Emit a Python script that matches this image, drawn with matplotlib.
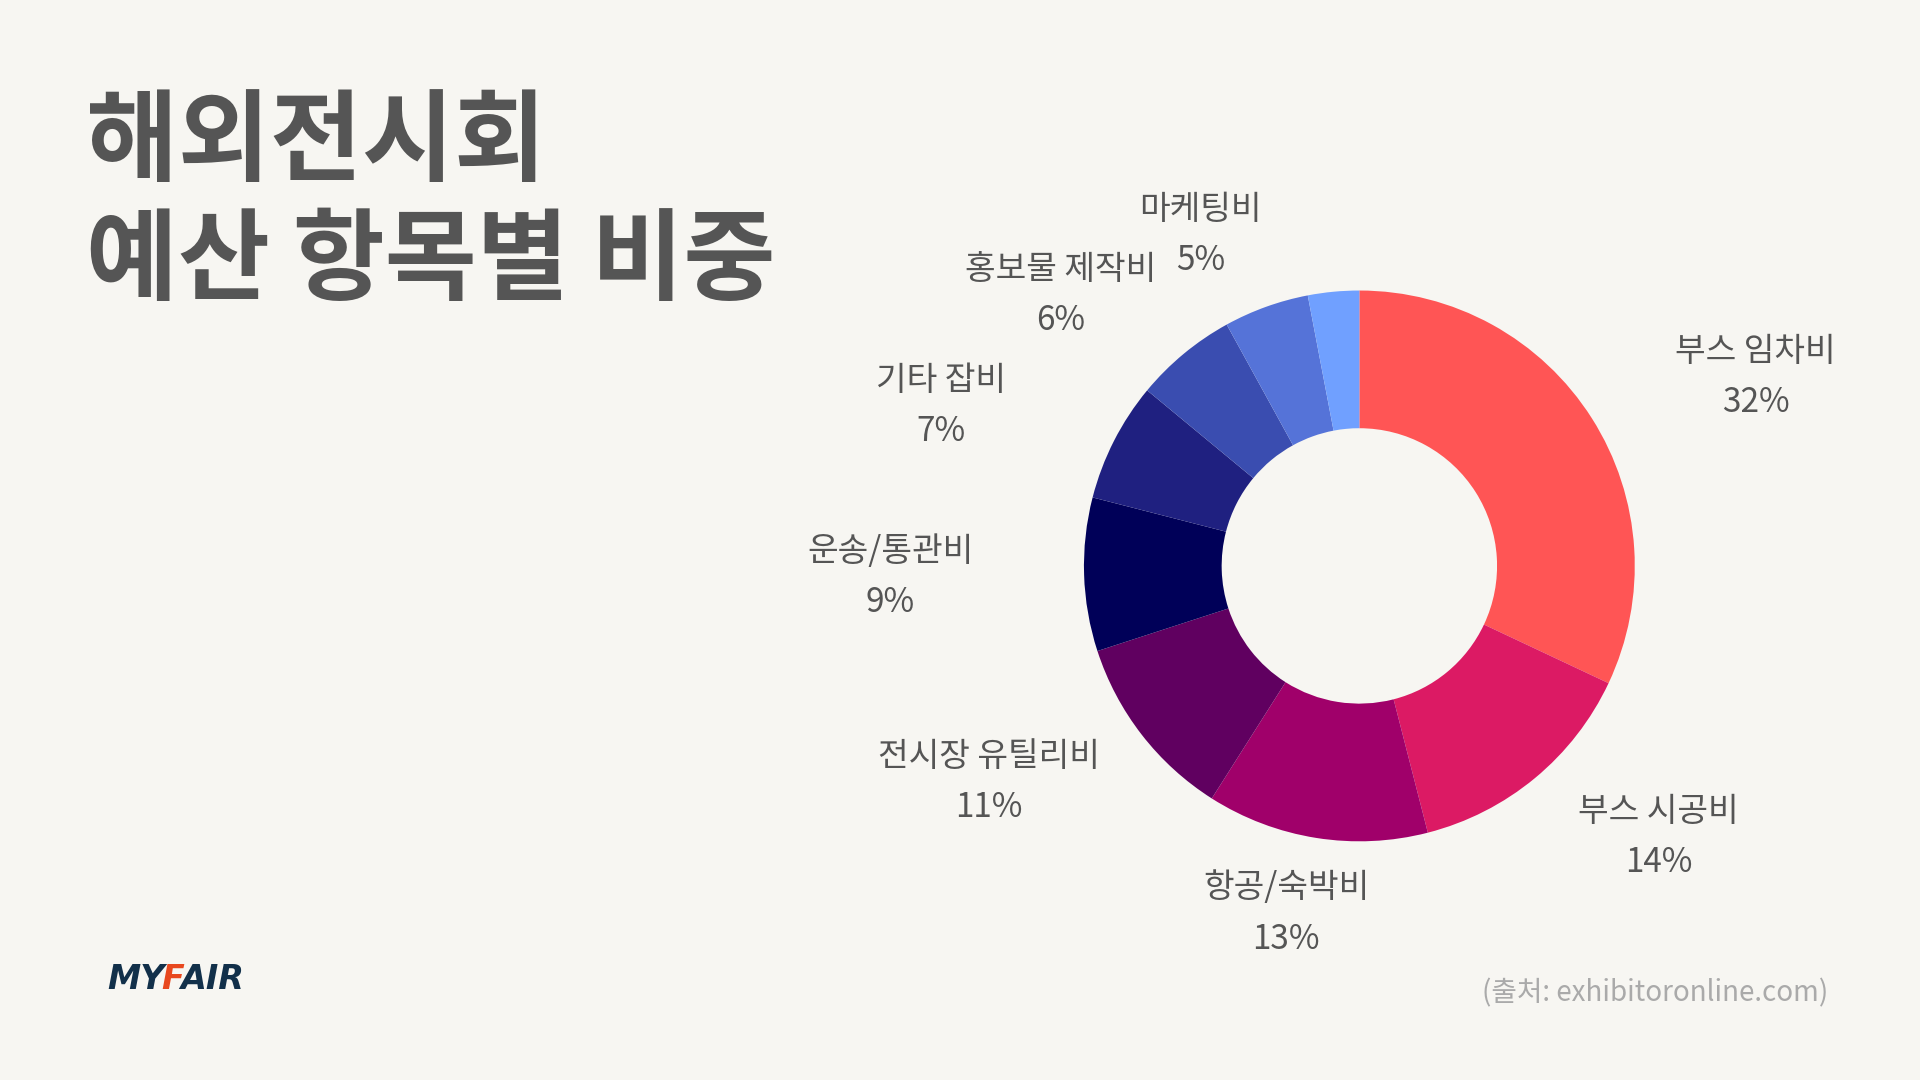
import matplotlib
matplotlib.use("Agg")
import matplotlib.pyplot as plt

plt.rcParams['font.family'] = ['Noto Sans CJK KR', 'DejaVu Sans']

categories = ["부스 임차비", "부스 시공비", "항공/숙박비", "전시장 유틸리비", "운송/통관비",
              "기타 잡비", "홍보물 제작비", "마케팅비", ""]
values = [32, 14, 13, 11, 9, 7, 6, 5, 3]
colors = ["#FF5555", "#DC1A64", "#A0006A", "#600060", "#000058",
          "#1F2080", "#3A4DB0", "#5573D8", "#70A0FF"]

bg = "#F7F6F2"
fig = plt.figure(figsize=(19.2, 10.8), dpi=100, facecolor=bg)
h = 0.51
w = h * 1080 / 1920
cx, cy = 0.708, 1 - 0.524
ax = fig.add_axes([cx - w / 2, cy - h / 2, w, h])
ax.set_facecolor(bg)
labels = [f"{c}\n{v}%" if c else "" for c, v in zip(categories, values)]
wedges, texts = ax.pie(values, colors=colors, startangle=90, counterclock=False,
                       wedgeprops=dict(width=0.5, linewidth=0),
                       labels=labels, labeldistance=1.42,
                       textprops=dict(fontsize=24, color="#555555", ha="center",
                                      va="center", linespacing=1.6))
for t in texts:
    x, y = t.get_position()
    t.set_position((x * 1.2, y * 0.9))
    t.set_clip_on(False)
ax.set_aspect("equal")
ax.set_xlim(-1, 1)
ax.set_ylim(-1, 1)
ax.axis("off")

fig.text(0.045, 0.915, "해외전시회\n예산 항목별 비중", fontsize=72, fontweight="bold",
         color="#555555", va="top", ha="left", linespacing=1.2)

r = fig.canvas.get_renderer()
x = 0.056
for s, c in [("MY", "#12304A"), ("F", "#E8481E"), ("AIR", "#12304A")]:
    t = fig.text(x, 0.093, s, fontsize=24, fontweight="heavy", style="italic",
                 color=c, ha="left", va="center", family="DejaVu Sans")
    x += t.get_window_extent(r).width / fig.bbox.width - 0.002

fig.text(0.952, 0.08, "(출처: exhibitoronline.com)", fontsize=20, color="#AAAAAA",
         ha="right", va="center")

fig.savefig("out.png", dpi=100, facecolor=bg)
